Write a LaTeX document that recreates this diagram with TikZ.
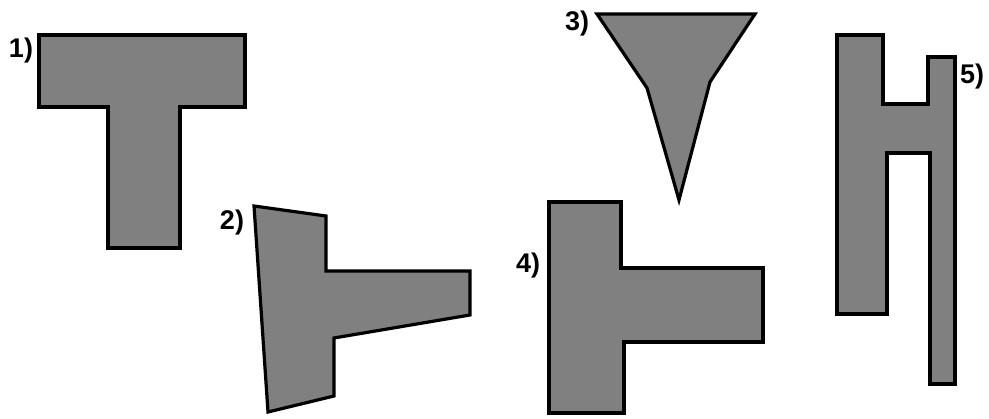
\documentclass[tikz,border=0pt]{standalone}
\usepackage{fontspec}
\setmainfont{Liberation Sans}
\begin{document}
\begin{tikzpicture}[x=1pt,y=-1pt,
  shp/.style={draw=black,fill=shapegray,line width=3.2pt,line join=miter},
  lbl/.style={font=\fontsize{27}{27}\selectfont\bfseries,inner sep=0pt}]
\definecolor{shapegray}{HTML}{808080}
\useasboundingbox (0,0) rectangle (989,419);
% shape 1
\draw[shp] (39,35) -- (245,35) -- (245,107) -- (180,107) -- (180,248) -- (108,248) -- (108,107) -- (39,107) -- cycle;
\node[lbl] (l1) at (21,51) {1)};
% shape 2
\draw[shp] (254,206) -- (326,216) -- (326,271) -- (470,271) -- (470,315) -- (334,338) -- (334,396) -- (268,412) -- cycle;
\node[lbl] (l2) at (232,223) {2)};
% shape 3
\draw[shp] (597,14) -- (755,14) -- (710,82) -- (679,200) -- (647,88) -- cycle;
\node[lbl] (l3) at (577,24) {3)};
% shape 4
\draw[shp] (549,202) -- (621,202) -- (621,268) -- (763,268) -- (763,342) -- (624,342) -- (624,413) -- (549,413) -- cycle;
\node[lbl] (l4) at (528,266) {4)};
% shape 5
\draw[shp] (837,35) -- (883,35) -- (883,104) -- (928,104) -- (928,57) -- (955,57) -- (955,384) -- (930,384) -- (930,153) -- (887,153) -- (887,314) -- (837,314) -- cycle;
\node[lbl] (l5) at (972,77) {5)};
\end{tikzpicture}
\end{document}
